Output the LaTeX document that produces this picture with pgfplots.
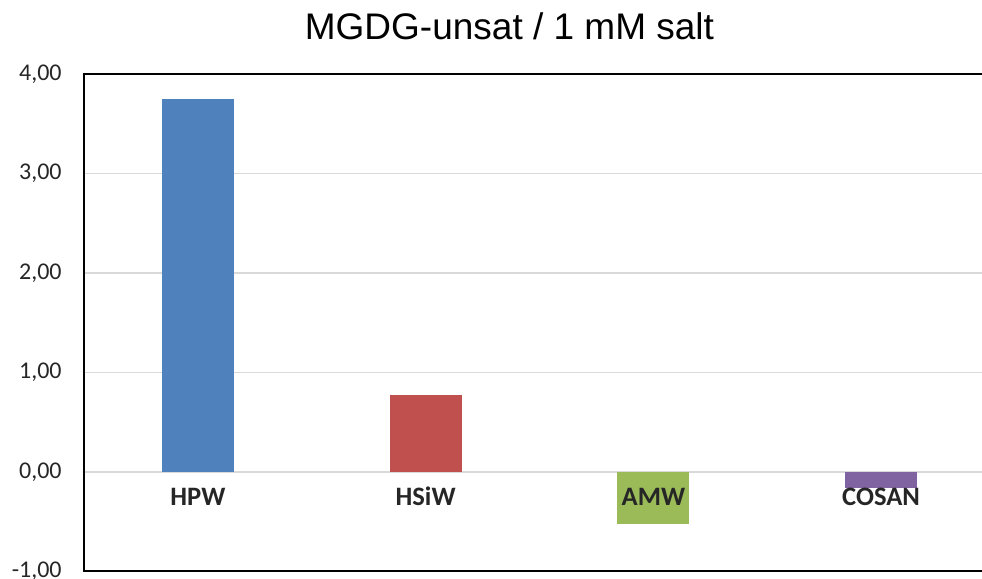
\documentclass[border=0pt]{standalone}
\usepackage{fontspec}
\setmainfont{Carlito}
\newfontfamily\arialfont{Liberation Sans}
\usepackage{pgfplots}
\pgfplotsset{compat=1.18}
\definecolor{cblue}{HTML}{4F81BD}
\definecolor{cred}{HTML}{C0504D}
\definecolor{cgreen}{HTML}{9BBB59}
\definecolor{cpurple}{HTML}{8064A2}
\definecolor{gridgray}{HTML}{D9D9D9}
\definecolor{txtgray}{HTML}{262626}
\pgfplotsset{
  layers/mylayers/.define layer set={
    axis background,axis grid,axis ticks,axis lines,pre main,main,axis tick labels,axis descriptions,axis foreground
  }{/pgfplots/layers/standard},
}
\begin{document}
\begin{tikzpicture}
\begin{axis}[
  set layers=mylayers,
  at={(0,0)}, anchor=south west,
  scale only axis, width=455.5pt, height=248.75pt,
  xmin=-0.5, xmax=3.5, ymin=-1, ymax=4,
  ybar, bar width=36pt, bar shift=0pt,
  xtick={0,1,2,3}, xticklabels={HPW,HSiW,AMW,COSAN},
  ytick={-1,0,1,2,3,4},
  ymajorgrids, grid style={draw=gridgray, line width=0.8pt},
  major tick length=0pt,
  axis line style={line width=1pt, black},
  /pgf/number format/.cd, fixed, fixed zerofill, precision=2, use comma, assume math mode=true,
  /pgfplots/.cd,
  yticklabel style={font=\fontsize{12}{14}\selectfont, text=txtgray, inner sep=0pt, anchor=east, xshift=-11pt},
  xticklabel style={font=\fontsize{13.3}{15}\selectfont\bfseries, text=txtgray, inner sep=0pt, anchor=center, yshift=37.5pt},
  title={MGDG-unsat / 1 mM salt},
  title style={font=\arialfont\fontsize{18.5}{22}\selectfont, at={(axis description cs:0.467,1)}, anchor=center, yshift=18pt},
]
\addplot[fill=cblue, draw=none] coordinates {(0,3.75)};
\addplot[fill=cred, draw=none] coordinates {(1,0.77)};
\addplot[fill=cgreen, draw=none] coordinates {(2,-0.52)};
\addplot[fill=cpurple, draw=none] coordinates {(3,-0.16)};
\end{axis}
\pgfresetboundingbox
\path[use as bounding box] (-42pt,-3.75pt) rectangle (449pt,285.75pt);
\end{tikzpicture}
\end{document}
